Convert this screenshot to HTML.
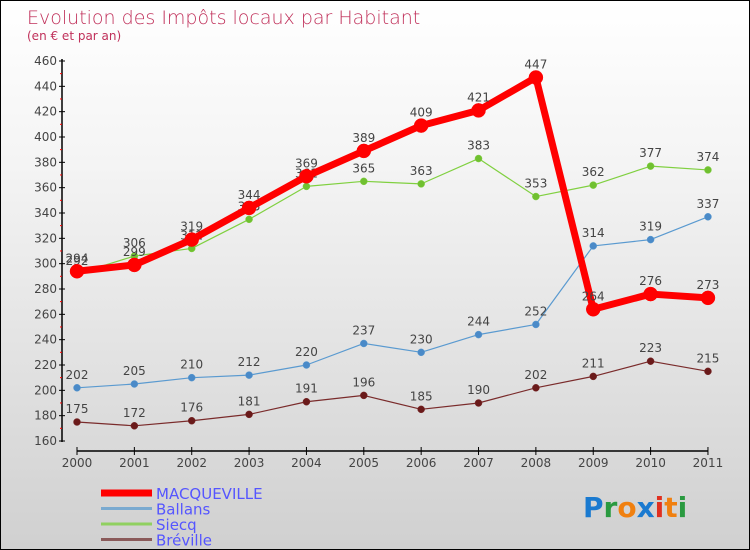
<!DOCTYPE html>
<html><head><meta charset="utf-8"><style>
body{margin:0}
#c{width:750px;height:550px;position:relative;box-sizing:border-box;border:1px solid #000;background:linear-gradient(#fff,#f4f4f4 30%,#d0d0d0);font-family:"DejaVu Sans","Liberation Sans",sans-serif;overflow:hidden}
svg text{font-family:"DejaVu Sans","Liberation Sans",sans-serif}
</style></head><body>
<div id="c">
<svg id="s" width="750" height="550">
<text x="26" y="23" font-size="19" fill="#c0305a" style="font-weight:200">Evolution des Impôts locaux par Habitant</text>
<text x="26" y="39" font-size="12" fill="#c0305a">(en € et par an)</text>
</svg>
</div>
<script>
const years=["2000","2001","2002","2003","2004","2005","2006","2007","2008","2009","2010","2011"];
const macq=[294,299,319,344,369,389,409,421,447,264,276,273];
const ballans=[202,205,210,212,220,237,230,244,252,314,319,337];
const siecq=[292,306,312,335,361,365,363,383,353,362,377,374];
const breville=[175,172,176,181,191,196,185,190,202,211,223,215];
const yTicks=[160,180,200,220,240,260,280,300,320,340,360,380,400,420,440,460];
const NS="http://www.w3.org/2000/svg",s=document.getElementById('s');
function el(t,a,p){const e=document.createElementNS(NS,t);for(const k in a)e.setAttribute(k,a[k]);(p||s).appendChild(e);return e;}
const X=i=>76+i*57.36, Y=v=>440-(v-160)*380/300;
// axes
let ax=el('line',{x1:61,y1:58,x2:61,y2:441,stroke:'#000','stroke-width':1.5});

yTicks.forEach(v=>{const y=Y(v);
 el('line',{x1:58,y1:y,x2:64,y2:y,stroke:'#000'});
 if(v<460)el('line',{x1:59,y1:y-12.7,x2:61,y2:y-12.7,stroke:'#f00'});
 const t=el('text',{x:56,y:y+4,'font-size':12,'text-anchor':'end',fill:'#444'});t.textContent=v;
 });
let xa=el('line',{x1:76,y1:450,x2:707,y2:450,stroke:'#000','stroke-width':1.5});

years.forEach((yr,i)=>{el('line',{x1:X(i),y1:446,x2:X(i),y2:454,stroke:'#000'});
 const t=el('text',{x:X(i),y:466,'font-size':12,'text-anchor':'middle',fill:'#444'});t.textContent=yr;
 });
function series(d,col,w,r,dot,name){const g=el('g',{});
 
 el('polyline',{points:d.map((v,i)=>X(i)+','+Y(v)).join(' '),fill:'none',stroke:col,'stroke-width':w,'stroke-linejoin':'round'},g);
 d.forEach((v,i)=>{el('circle',{cx:X(i),cy:Y(v),r:r,fill:dot,stroke:col,'stroke-width':0.5},g);
  const t=el('text',{x:X(i),y:Y(v)-9,'font-size':12,'text-anchor':'middle',fill:'#444'},g);t.textContent=v;});}
series(breville,'#7a2b2b',1.2,3.5,'#6a1a1a','series-breville');
series(ballans,'#5a9ad0',1.2,3.5,'#4a8ac8','series-ballans');
series(siecq,'#80d040',1.2,3.5,'#70c030','series-siecq');
series(macq,'#f00',7,7,'#f00','series-macqueville');
// legend
const leg=[["MACQUEVILLE","#f00",7],["Ballans","#7aaad0",3],["Siecq","#90d060",3],["Bréville","#8a5a5a",3]];
leg.forEach((l,i)=>{const y=492+i*15.5;const g=el('g',{});
 
 el('line',{x1:100,y1:y,x2:151,y2:y,stroke:l[1],'stroke-width':l[2]},g);
 const t=el('text',{x:155,y:y+6,'font-size':15,fill:'#5555ff'},g);t.textContent=l[0];});
// logo
const lg=el('text',{x:582,y:516,'font-size':28,'font-weight':'bold'});

[["P","#1a7ad0"],["r","#2a9a40"],["o","#f08010"],["x","#1a7ad0"],["i","#e03020"],["t","#f08010"],["i","#2a9a40"]].forEach(c=>{const ts=el('tspan',{fill:c[1]},lg);ts.textContent=c[0];});
</script>
</body></html>
